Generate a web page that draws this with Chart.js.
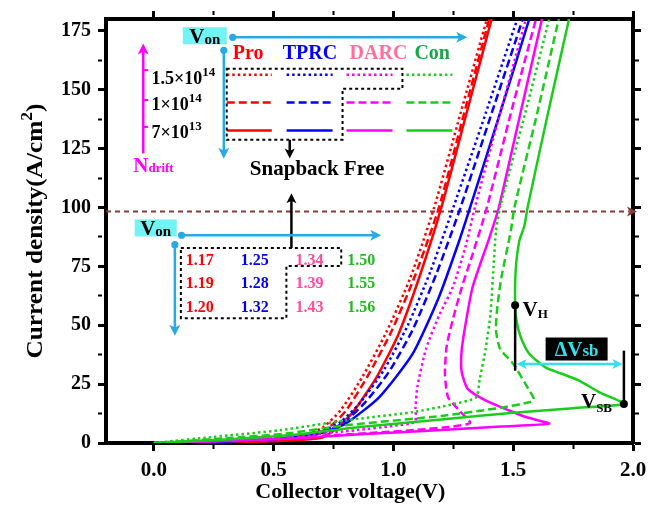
<!DOCTYPE html>
<html>
<head>
<meta charset="utf-8">
<script src="https://cdn.jsdelivr.net/npm/chart.js@4.4.1/dist/chart.umd.min.js"></script>
<style>
  html, body { margin: 0; padding: 0; background: #fff; }
  #c { display: block; }
</style>
</head>
<body>
<canvas id="c" width="661" height="506"></canvas>
<script>
// ---------- I–V curves: collector voltage (V) vs current density (A/cm²) ----------
// Pro
const proDotV  = [0, 0.3, 0.5, 0.64, 0.71, 0.78, 0.87, 0.97, 1.07, 1.17, 1.28, 1.39];
const proDotJ  = [0, 0.6, 1.6, 3.5, 7, 14, 28, 47, 70, 100, 140, 180];
const proDashV = [0, 0.3, 0.5, 0.66, 0.73, 0.8, 0.89, 0.99, 1.09, 1.19, 1.295, 1.40];
const proDashJ = [0, 0.5, 1.3, 3, 6.5, 13.5, 28, 47, 71, 100, 140, 180];
const proSolV  = [0, 0.3, 0.55, 0.7, 0.76, 0.83, 0.93, 1.02, 1.11, 1.20, 1.305, 1.41];
const proSolJ  = [0, 0.3, 1, 2.2, 6, 13, 28, 46, 71, 100, 140, 180];
// TPRC
const tprcDotV  = [0, 0.3, 0.55, 0.7, 0.78, 0.86, 0.96, 1.06, 1.155, 1.25, 1.385, 1.517];
const tprcDotJ  = [0, 0.8, 2.5, 5, 9, 17, 31, 50, 73, 100, 140, 180];
const tprcDashV = [0, 0.3, 0.55, 0.7, 0.79, 0.88, 0.98, 1.08, 1.18, 1.28, 1.41, 1.54];
const tprcDashJ = [0, 0.7, 2.2, 4.5, 8.5, 17, 30, 48, 72, 100, 140, 180];
const tprcSolV  = [0, 0.3, 0.55, 0.7, 0.8, 0.94, 1.08, 1.19, 1.275, 1.32, 1.445, 1.567];
const tprcSolJ  = [0, 0.6, 2, 4.3, 8.2, 19.4, 37.8, 62, 86, 100, 140, 180];
// DARC
const darcDotV  = [0, 0.3, 0.6, 0.85, 1.0, 1.09, 1.092, 1.10, 1.136, 1.19, 1.247, 1.30, 1.34, 1.445, 1.553];
const darcDotJ  = [0, 1, 3, 5.5, 7.3, 9, 15, 24, 40, 54, 66, 83, 100, 140, 180];
const darcDashV = [0, 0.3, 0.6, 0.9, 1.1, 1.25, 1.32, 1.275, 1.228, 1.215, 1.222, 1.247, 1.285, 1.33, 1.39, 1.49, 1.595];
const darcDashJ = [0, 1, 2.5, 4.2, 5.6, 7, 8.6, 13.8, 19.4, 29, 41, 52, 66, 80, 100, 140, 180];
const darcSolV  = [0, 0.3, 0.6, 0.86, 1.2, 1.45, 1.65, 1.56, 1.483, 1.386, 1.31, 1.285, 1.283, 1.292, 1.33, 1.40, 1.44, 1.53, 1.62];
const darcSolJ  = [0, 0.8, 2, 3.7, 5.5, 7, 8.2, 10.8, 13.8, 18, 23, 30, 37, 45, 66, 87, 100, 140, 180];
// Con
const conDotV  = [0, 0.25, 0.525, 0.8, 1.08, 1.25, 1.345, 1.36, 1.385, 1.405, 1.418, 1.428, 1.445, 1.55, 1.65];
const conDotJ  = [0, 2.6, 5.4, 9.6, 13.1, 16.5, 19.4, 27, 40, 55, 75, 90, 100, 140, 180];
const conDashV = [0, 0.3, 0.55, 0.8, 1.2, 1.45, 1.567, 1.587, 1.567, 1.50, 1.445, 1.428, 1.434, 1.45, 1.49, 1.505, 1.60, 1.69];
const conDashJ = [0, 2, 4, 7.5, 11.5, 15, 17.3, 18.5, 22.3, 33.6, 40, 48, 58, 70, 90, 100, 140, 180];
const conSolV  = [0, 0.3, 0.6, 0.86, 1.2, 1.5, 1.75, 1.962, 1.86, 1.775, 1.7, 1.636, 1.567, 1.532, 1.514, 1.508, 1.51, 1.525, 1.546, 1.56, 1.645, 1.733];
const conSolJ  = [0, 1.5, 3.6, 6.8, 10, 12.8, 14.8, 16.6, 21.5, 26.5, 29.5, 32, 37.9, 44.8, 51.8, 58.5, 73, 85.6, 92, 100, 140, 180];

// ---------- axis ticks ----------
const xTickValues = [0, 0.25, 0.5, 0.75, 1.0, 1.25, 1.5, 1.75, 2.0];
const yTickValues = [0, 12.5, 25, 37.5, 50, 62.5, 75, 87.5, 100, 112.5, 125, 137.5, 150, 162.5, 175];

// ---------- legend / table text ----------
const deviceNames  = ['Pro', 'TPRC', 'DARC', 'Con'];
const dopingBase   = ['1.5×10', '1×10', '7×10'];
const dopingExp    = ['14', '14', '13'];
const vonPro  = ['1.17', '1.19', '1.20'];
const vonTprc = ['1.25', '1.28', '1.32'];
const vonDarc = ['1.34', '1.39', '1.43'];
const vonCon  = ['1.50', '1.55', '1.56'];

// snapback markers (V, J)
const holdPoint     = [1.508, 58.5];
const snapbackPoint = [1.962, 16.6];
const refCurrent    = 98.3;

const SERIF = '"Liberation Serif", "Times New Roman", serif';
const RED = '#ff0000', BLUE = '#0000ff', MAG = '#ff00ff', GRN = '#1ccc1c';
const CYAN = '#29aae6', BROWN = '#8b3a3a';
const DASH = { dot: [2.5, 3], dash: [8, 4], solid: [] };

function curve(V, J, color, dash) {
  return {
    data: V.map((v, i) => ({ x: v, y: J[i] })),
    borderColor: color, borderDash: dash, borderWidth: 2.5,
    pointRadius: 0, showLine: true, tension: 0.2, fill: false
  };
}

const datasets = [
  curve(conDotV, conDotJ, GRN, DASH.dot),
  curve(conDashV, conDashJ, GRN, DASH.dash),
  curve(conSolV, conSolJ, GRN, DASH.solid),
  curve(darcDotV, darcDotJ, MAG, DASH.dot),
  curve(darcDashV, darcDashJ, MAG, DASH.dash),
  curve(darcSolV, darcSolJ, MAG, DASH.solid),
  curve(tprcDotV, tprcDotJ, BLUE, DASH.dot),
  curve(tprcDashV, tprcDashJ, BLUE, DASH.dash),
  curve(tprcSolV, tprcSolJ, BLUE, DASH.solid),
  curve(proDotV, proDotJ, RED, DASH.dot),
  curve(proDashV, proDashJ, RED, DASH.dash),
  curve(proSolV, proSolJ, RED, DASH.solid)
];

// ---------- drawing helpers ----------
function font(size) { return `bold ${size}px ${SERIF}`; }

function drawRuns(ctx, runs, x, y, align, sx) {
  sx = sx || 1;
  let w = 0;
  runs.forEach(r => { ctx.font = font(r.size); r.w = ctx.measureText(r.t).width * sx; w += r.w; });
  let cx = align === 'center' ? x - w / 2 : align === 'right' ? x - w : x;
  ctx.textAlign = 'left';
  ctx.textBaseline = 'alphabetic';
  runs.forEach(r => {
    ctx.font = font(r.size);
    ctx.fillStyle = r.color;
    ctx.save();
    ctx.translate(cx, y + (r.dy || 0));
    ctx.scale(sx, 1);
    ctx.fillText(r.t, 0, 0);
    ctx.restore();
    cx += r.w;
  });
  return w;
}

function text(ctx, t, x, y, size, color, align) {
  ctx.font = font(size);
  ctx.fillStyle = color;
  ctx.textAlign = align || 'left';
  ctx.textBaseline = 'middle';
  ctx.fillText(t, x, y);
}

function head(ctx, x, y, ang, len, half, color) {
  ctx.save();
  ctx.translate(x, y);
  ctx.rotate(ang);
  ctx.fillStyle = color;
  ctx.beginPath();
  ctx.moveTo(0, 0);
  ctx.lineTo(-len, -half);
  ctx.lineTo(-len * 0.75, 0);
  ctx.lineTo(-len, half);
  ctx.closePath();
  ctx.fill();
  ctx.restore();
}

function line(ctx, x1, y1, x2, y2, color, w, dash) {
  ctx.save();
  ctx.strokeStyle = color;
  ctx.lineWidth = w;
  ctx.setLineDash(dash || []);
  ctx.beginPath();
  ctx.moveTo(x1, y1);
  ctx.lineTo(x2, y2);
  ctx.stroke();
  ctx.restore();
}

function dot(ctx, x, y, r, color) {
  ctx.fillStyle = color;
  ctx.beginPath();
  ctx.arc(x, y, r, 0, Math.PI * 2);
  ctx.fill();
}

// arrow with a round tail dot
function cyanArrow(ctx, x1, y1, x2, y2) {
  const ang = Math.atan2(y2 - y1, x2 - x1);
  line(ctx, x1, y1, x2 - Math.cos(ang) * 6, y2 - Math.sin(ang) * 6, CYAN, 2.5);
  head(ctx, x2, y2, ang, 11, 5.5, CYAN);
  dot(ctx, x1, y1, 3.6, CYAN);
}

function blackArrow(ctx, x1, y1, x2, y2) {
  const ang = Math.atan2(y2 - y1, x2 - x1);
  line(ctx, x1, y1, x2 - Math.cos(ang) * 5, y2 - Math.sin(ang) * 5, '#000', 2.5);
  head(ctx, x2, y2, ang, 10, 5, '#000');
}

function vonBox(ctx, cx, cy, w, h) {
  ctx.fillStyle = '#72f4f4';
  ctx.fillRect(cx - w / 2, cy - h / 2, w, h);
  drawRuns(ctx, [{ t: 'V', size: 21, color: '#000' }, { t: 'on', size: 15, color: '#000', dy: 1 }], cx, cy + 7, 'center');
}

function dottedPoly(ctx, pts) {
  ctx.save();
  ctx.strokeStyle = '#000';
  ctx.lineWidth = 2;
  ctx.setLineDash([3, 3]);
  ctx.beginPath();
  pts.forEach((p, i) => i ? ctx.lineTo(p[0], p[1]) : ctx.moveTo(p[0], p[1]));
  ctx.closePath();
  ctx.stroke();
  ctx.restore();
}

const annotations = {
  id: 'annotations',
  beforeDatasetsDraw(chart) {
    const { ctx, scales: { x: xs, y: ys } } = chart;
    const X = v => xs.getPixelForValue(v), Y = v => ys.getPixelForValue(v);
    // reference current level
    line(ctx, X(-0.2), Y(refCurrent), X(1.985), Y(refCurrent), BROWN, 2, [5, 4]);
    head(ctx, X(2.0) + 4, Y(refCurrent), 0, 10, 5, BROWN);
  },
  afterDatasetsDraw(chart) {
    const { ctx, chartArea: ca, scales: { x: xs, y: ys } } = chart;
    const X = v => xs.getPixelForValue(v), Y = v => ys.getPixelForValue(v);
    ctx.save();

    // ----- upper legend block -----
    vonBox(ctx, X(0.2125), Y(172.9), 44, 17);
    cyanArrow(ctx, X(0.329), Y(172.2), X(1.308), Y(172.2));
    cyanArrow(ctx, X(0.2917), Y(166.7), X(0.2917), Y(120.7));

    const nameColors = [RED, BLUE, '#ff6f9a', '#16a84a'];
    const nameX = [0.329, 0.5375, 0.817, 1.0875];
    deviceNames.forEach((n, i) => text(ctx, n, X(nameX[i]), Y(165.1), 20, nameColors[i]));

    const rowY = [156.3, 144.5, 132.7];
    const rowDash = [DASH.dot, DASH.dash, DASH.solid];
    const colX = [[0.304, 0.492], [0.554, 0.746], [0.804, 0.996], [1.054, 1.246]];
    const colC = [RED, BLUE, MAG, GRN];
    rowY.forEach((ry, r) => colX.forEach((cx, c) =>
      line(ctx, X(cx[0]), Y(ry), X(cx[1]), Y(ry), colC[c], 2.5, rowDash[r])));

    dottedPoly(ctx, [[X(0.304), Y(158.9)], [X(1.0375), Y(158.9)], [X(1.0375), Y(150.4)],
                     [X(0.7875), Y(150.4)], [X(0.7875), Y(128.7)], [X(0.304), Y(128.7)]]);
    blackArrow(ctx, X(0.567), Y(128.7), X(0.567), Y(120.8));
    text(ctx, 'Snapback Free', X(0.681), Y(116), 21, '#000', 'center');
    blackArrow(ctx, X(0.574), Y(82.8), X(0.574), Y(106));

    // doping axis
    const nx = X(-0.0446);
    line(ctx, nx, Y(122.9), nx, Y(166), MAG, 2.5);
    head(ctx, nx, Y(169.6), -Math.PI / 2, 11, 5.5, MAG);
    [158.3, 145.6, 134.2].forEach(v => line(ctx, nx, Y(v), nx + 5, Y(v), MAG, 2));
    const dopY = [152.4, 141.3, 129.3];
    dopingBase.forEach((b, i) => drawRuns(ctx, [
      { t: b, size: 18, color: '#000' },
      { t: dopingExp[i], size: 13, color: '#000', dy: -8 }
    ], X(-0.0096), Y(dopY[i]), 'left'));
    drawRuns(ctx, [{ t: 'N', size: 21, color: MAG }, { t: 'drift', size: 13, color: MAG }],
      X(-0.0862), Y(115.2), 'left');

    // ----- lower Von table -----
    vonBox(ctx, X(0.0075), Y(91.3), 42, 17);
    cyanArrow(ctx, X(0.1154), Y(88.2), X(0.949), Y(88.2));
    cyanArrow(ctx, X(0.0875), Y(84.2), X(0.0875), Y(45.5));
    const tRows = [77.5, 67.6, 57.5];
    const tCols = [0.1917, 0.4208, 0.65, 0.8654];
    const tCol = [RED, BLUE, '#ff4f9a', '#22bb22'];
    [vonPro, vonTprc, vonDarc, vonCon].forEach((arr, c) =>
      arr.forEach((v, r) => text(ctx, v, X(tCols[c]), Y(tRows[r]), 16, tCol[c], 'center')));
    dottedPoly(ctx, [[X(0.1125), Y(82.8)], [X(0.782), Y(82.8)], [X(0.782), Y(75.1)],
                     [X(0.553), Y(75.1)], [X(0.553), Y(53.0)], [X(0.1125), Y(53.0)]]);

    // ----- snapback markers -----
    const [vh, jh] = holdPoint, [vs, js] = snapbackPoint;
    line(ctx, X(vh), Y(jh), X(vh), Y(30.7), '#000', 2.5);
    dot(ctx, X(vh), Y(jh), 4, '#000');
    drawRuns(ctx, [{ t: 'V', size: 21, color: '#000' }, { t: 'H', size: 13, color: '#000', dy: 2 }],
      X(1.539), Y(53.9), 'left');
    line(ctx, X(vs), Y(js), X(vs), Y(39.2), '#000', 2.5);
    dot(ctx, X(vs), Y(js), 4, '#000');
    drawRuns(ctx, [{ t: 'V', size: 21, color: '#000' }, { t: 'SB', size: 13, color: '#000', dy: 4 }],
      X(1.9125), Y(14.7), 'right');

    // ΔVsb
    const bx = X(1.7646), by = Y(39.9);
    ctx.fillStyle = '#000';
    ctx.fillRect(bx - 31, by - 11.5, 62, 23);
    drawRuns(ctx, [{ t: 'Δ', size: 20, color: '#33e0f0' }, { t: 'V', size: 21, color: '#33e0f0' },
                   { t: 'sb', size: 17, color: '#33e0f0' }], bx, by + 7, 'center');
    const ay = Y(33.5), ax1 = X(vh) + 1.5, ax2 = X(vs) - 1.5;
    line(ctx, ax1 + 6, ay, ax2 - 6, ay, '#33e0f0', 2.5);
    head(ctx, ax1, ay, Math.PI, 10, 5, '#33e0f0');
    head(ctx, ax2, ay, 0, 10, 5, '#33e0f0');

    // ----- axis titles -----
    ctx.save();
    ctx.translate(ca.left - 72, Y(90));
    ctx.rotate(-Math.PI / 2);
    drawRuns(ctx, [{ t: 'Current density(A/cm', size: 23, color: '#000' },
                   { t: '2', size: 16, color: '#000', dy: -10 },
                   { t: ')', size: 23, color: '#000' }], 0, 8, 'center', 1.1);
    ctx.restore();
    drawRuns(ctx, [{ t: 'Collector voltage(V)', size: 22, color: '#000' }], X(0.82), ca.bottom + 55, 'center');

    ctx.restore();
  }
};

// ---------- axes ----------
const isMajorX = v => Math.abs(v * 2 - Math.round(v * 2)) < 1e-6;
const isMajorY = v => Math.abs(v / 25 - Math.round(v / 25)) < 1e-6;
function gridOpts(isMajor) {
  return {
    drawOnChartArea: false, drawTicks: true, tickLength: 8, tickColor: '#000',
    tickWidth: c => (c.tick && isMajor(c.tick.value)) ? 3 : 2,
    tickBorderDash: c => (c.tick && isMajor(c.tick.value)) ? [] : [4, 40]
  };
}
const setTicks = values => s => { s.ticks = values.map(v => ({ value: v })); };
const border = { display: true, width: 4, color: '#000' };

new Chart(document.getElementById('c'), {
  type: 'scatter',
  data: { datasets },
  options: {
    responsive: false, animation: false, devicePixelRatio: 1,
    layout: { padding: 0 },
    plugins: { legend: { display: false }, tooltip: { enabled: false } },
    scales: {
      x: {
        type: 'linear', position: 'bottom', min: -0.2, max: 2.0,
        afterBuildTicks: setTicks(xTickValues),
        ticks: { autoSkip: false, maxRotation: 0, padding: 7, color: '#000',
                 font: { family: SERIF, size: 21, weight: 'bold' },
                 callback: v => isMajorX(v) ? v.toFixed(1) : '' },
        grid: gridOpts(isMajorX), border,
        afterFit: s => { s.height = 63; }
      },
      xTop: {
        type: 'linear', position: 'top', min: -0.2, max: 2.0,
        afterBuildTicks: setTicks(xTickValues),
        ticks: { autoSkip: false, display: false },
        grid: gridOpts(isMajorX), border,
        afterFit: s => { s.height = 16; }
      },
      y: {
        type: 'linear', position: 'left', min: 0, max: 180,
        afterBuildTicks: setTicks(yTickValues),
        ticks: { autoSkip: false, padding: 7, color: '#000',
                 font: { family: SERIF, size: 20, weight: 'bold' },
                 callback: v => isMajorY(v) ? String(Math.round(v)) : '' },
        grid: gridOpts(isMajorY), border,
        afterFit: s => { s.width = 106; }
      },
      yRight: {
        type: 'linear', position: 'right', min: 0, max: 180,
        afterBuildTicks: setTicks(yTickValues),
        ticks: { autoSkip: false, display: false },
        grid: gridOpts(isMajorY), border,
        afterFit: s => { s.width = 28; }
      }
    }
  },
  plugins: [annotations]
});
</script>
</body>
</html>
